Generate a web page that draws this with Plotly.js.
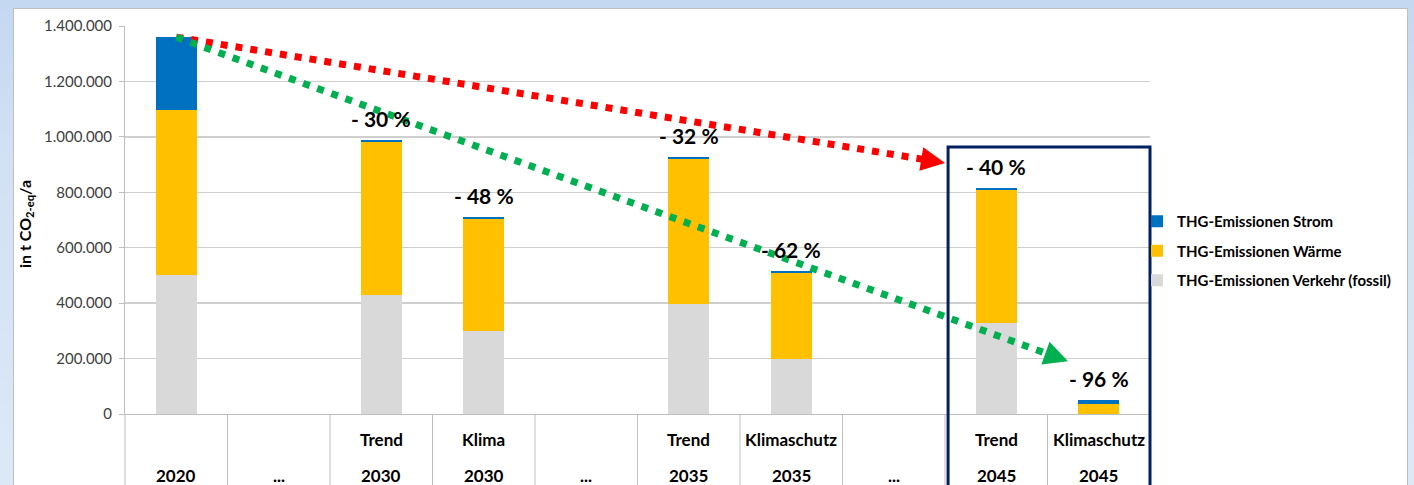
<!DOCTYPE html>
<html>
<head>
<meta charset="utf-8">
<script src="https://cdn.plot.ly/plotly-3.0.1.min.js"></script>
<style>
  html, body { margin: 0; padding: 0; width: 1414px; height: 485px; overflow: hidden; }
  body { background: linear-gradient(to bottom, #c4d8f1 0%, #d3e1f4 35%, #dde8f7 100%); position: relative; }
  #frame { position: absolute; left: 13px; top: 8px; width: 1393px; height: 490px; background: #ffffff; border: 1px solid #bfbfbf; }
  #chart { position: absolute; left: 0; top: 0; width: 1414px; height: 485px; }
</style>
</head>
<body>
<div id="frame"></div>
<div id="chart"></div>
<script>
// ---- data ----
const scenarioRow = ['', '', 'Trend', 'Klima', '', 'Trend', 'Klimaschutz', '', 'Trend', 'Klimaschutz'];
const yearRow     = ['2020', '...', '2030', '2030', '...', '2035', '2035', '...', '2045', '2045'];
const verkehr = [500000, null, 430000, 298000, null, 397000, 198000, null, 327000, 0];
const waerme  = [596000, null, 550000, 405000, null, 524000, 310000, null, 481000, 35000];
const strom   = [264000, null, 7000, 8000, null, 7000, 8000, null, 8000, 14000];
const pctLabels = ['', '', '- 30 %', '- 48 %', '', '- 32 %', '- 62 %', '', '- 40 %', '- 96 %'];
const seriesNames = ['THG-Emissionen Verkehr (fossil)', 'THG-Emissionen Wärme', 'THG-Emissionen Strom'];
const yTickVals = [0, 200000, 400000, 600000, 800000, 1000000, 1200000, 1400000];

// ---- layout constants ----
const FONT = 'Lato, "Open Sans", sans-serif';
const M = {l: 125, r: 264, t: 26, b: 71};
const PW = 1414 - M.l - M.r, PH = 485 - M.t - M.b;
const XR = [-0.5, scenarioRow.length - 0.5], YR = [0, 1400000];

const xs = scenarioRow.map((_, i) => i);
const totals = xs.map(i => (verkehr[i] || 0) + (waerme[i] || 0) + (strom[i] || 0));

function dataToPx(x, y) {
  return [M.l + (x - XR[0]) / (XR[1] - XR[0]) * PW, M.t + PH - (y - YR[0]) / (YR[1] - YR[0]) * PH];
}
function pxToPaper(p) { return [(p[0] - M.l) / PW, (M.t + PH - p[1]) / PH]; }

const colors = ['#d9d9d9', '#ffc000', '#0070c0'];
const series = [verkehr, waerme, strom];
const traces = series.map((vals, k) => ({
  type: 'bar', x: xs, y: vals, name: seriesNames[k],
  marker: {color: colors[k], line: {width: 0}},
  width: 0.4, legendgroup: 'g' + k, legendrank: 10 - k, hoverinfo: 'skip'
}));

const shapes = [];
// category separators below the axis
for (let i = 0; i <= scenarioRow.length; i++) {
  shapes.push({type: 'line', xref: 'paper', yref: 'paper', x0: i / scenarioRow.length, x1: i / scenarioRow.length,
               y0: 0, y1: -(M.b + 5) / PH, line: {color: '#bfbfbf', width: 1}});
}
// highlight box around the 2045 scenarios
shapes.push({type: 'rect', xref: 'paper', yref: 'paper', x0: 8 / scenarioRow.length + 0.003, x1: 1.0,
             y0: -(M.b + 10) / PH, y1: pxToPaper([0, 147])[1], line: {color: '#002060', width: 3}, fillcolor: 'rgba(0,0,0,0)'});

// dotted trend arrows from the 2020 total
function arrow(endX, endY, color) {
  const S = dataToPx(0, totals[0]);
  const E = dataToPx(endX, endY);
  const dx = E[0] - S[0], dy = E[1] - S[1], len = Math.hypot(dx, dy);
  const ux = dx / len, uy = dy / len, nx = -uy, ny = ux;
  const headL = 24, headW = 12;
  const B = [E[0] - ux * headL, E[1] - uy * headL];
  const lineEnd = [E[0] - ux * (headL - 2), E[1] - uy * (headL - 2)];
  const s = pxToPaper(S), le = pxToPaper(lineEnd);
  shapes.push({type: 'line', xref: 'paper', yref: 'paper', x0: s[0], y0: s[1], x1: le[0], y1: le[1],
               line: {color: color, width: 7, dash: '7px,8px'}, layer: 'above'});
  const p1 = pxToPaper(E), p2 = pxToPaper([B[0] + nx * headW, B[1] + ny * headW]), p3 = pxToPaper([B[0] - nx * headW, B[1] - ny * headW]);
  shapes.push({type: 'path', xref: 'paper', yref: 'paper',
               path: `M ${p1[0]} ${p1[1]} L ${p2[0]} ${p2[1]} L ${p3[0]} ${p3[1]} Z`,
               fillcolor: color, line: {width: 0}, layer: 'above'});
}
arrow(7.5, 906000, '#ff0000');
arrow(8.7, 190000, '#00b050');

const annotations = [];
xs.forEach(i => {
  if (scenarioRow[i]) {
    annotations.push({xref: 'x', yref: 'paper', x: i, y: pxToPaper([0, 439])[1], text: '<b>' + scenarioRow[i] + '</b>',
                      showarrow: false, xanchor: 'center', yanchor: 'middle', font: {family: FONT, size: 17, color: '#000000'}});
  }
  annotations.push({xref: 'x', yref: 'paper', x: i, y: pxToPaper([0, 476])[1], text: '<b>' + yearRow[i] + '</b>',
                    showarrow: false, xanchor: 'center', yanchor: 'middle', font: {family: FONT, size: 17, color: '#000000'}});
  if (pctLabels[i]) {
    annotations.push({xref: 'x', yref: 'y', x: i, y: totals[i], text: '<b>' + pctLabels[i] + '</b>', showarrow: false,
                      xanchor: 'center', yanchor: 'bottom', yshift: 7, font: {family: FONT, size: 21, color: '#000000'}});
  }
});
annotations.push({xref: 'paper', yref: 'paper', x: pxToPaper([25, 0])[0], y: pxToPaper([0, 224])[1],
                  text: '<b>in t CO<sub>2-eq</sub>/a</b>', textangle: -90, showarrow: false,
                  xanchor: 'center', yanchor: 'middle', font: {family: FONT, size: 16, color: '#000000'}});

const layout = {
  width: 1414, height: 485,
  margin: M,
  paper_bgcolor: 'rgba(0,0,0,0)', plot_bgcolor: 'rgba(0,0,0,0)',
  barmode: 'stack', separators: ',.',
  font: {family: FONT, color: '#404040'},
  xaxis: {range: XR, showticklabels: false, ticks: '', showgrid: false, zeroline: false,
          showline: true, linecolor: '#bfbfbf', linewidth: 1, fixedrange: true},
  yaxis: {range: YR, tickvals: yTickVals, tickformat: ',d', showgrid: true, gridcolor: '#cfcfcf', gridwidth: 1.3,
          zeroline: false, showline: true, linecolor: '#bfbfbf', linewidth: 1, ticks: 'outside', ticklen: 5,
          tickcolor: '#bfbfbf', tickfont: {family: FONT, size: 15, color: '#404040'}, ticklabelstandoff: 4, fixedrange: true},
  showlegend: true,
  legend: {x: pxToPaper([1137, 0])[0], xanchor: 'left', y: pxToPaper([0, 205])[1], yanchor: 'top',
           bgcolor: 'rgba(0,0,0,0)', tracegroupgap: 7, traceorder: 'grouped',
           font: {family: FONT, size: 15, color: '#000000', weight: 'bold'}},
  shapes: shapes, annotations: annotations
};

Plotly.newPlot('chart', traces, layout, {displayModeBar: false, staticPlot: true});
</script>
</body>
</html>
